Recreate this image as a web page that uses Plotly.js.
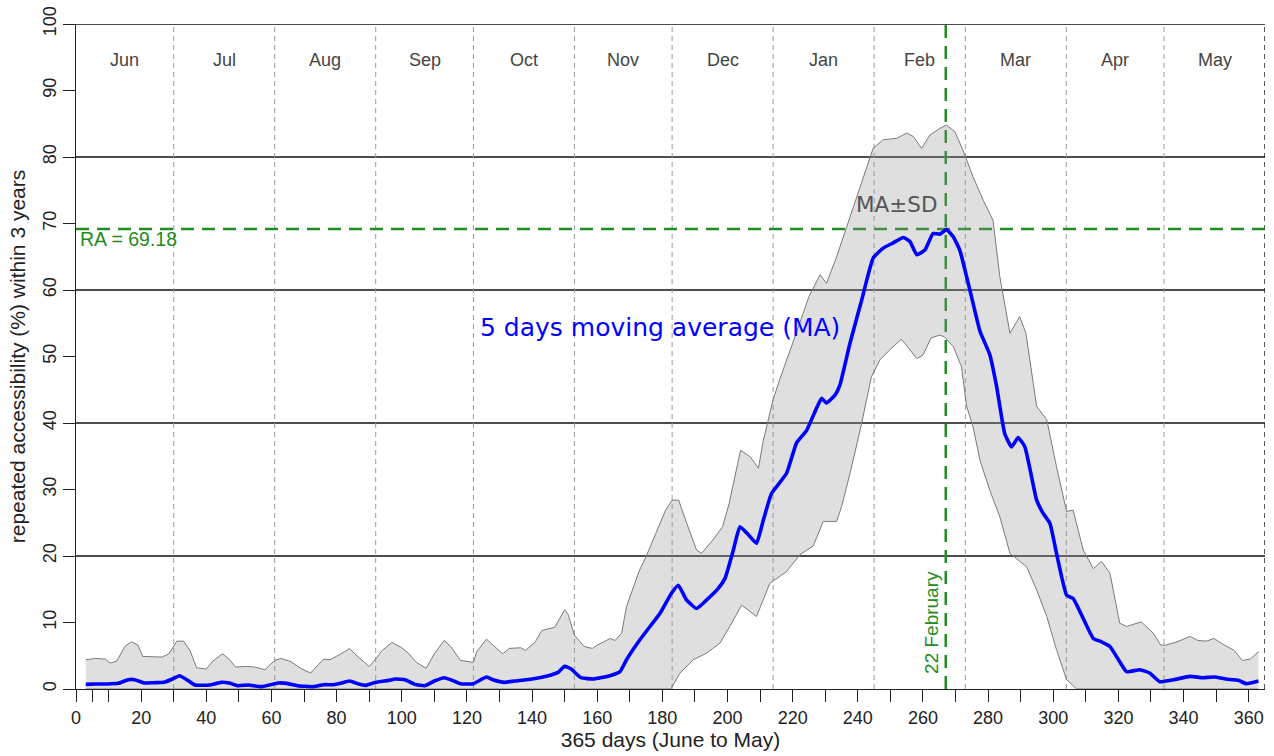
<!DOCTYPE html>
<html>
<head>
<meta charset="utf-8">
<script src="https://cdn.plot.ly/plotly-3.0.1.min.js"></script>
<style>html,body{margin:0;padding:0;background:#fff;}#chart{width:1274px;height:756px;}</style>
</head>
<body>
<div id="chart"></div>
<script>
// ---- data ----
const upperDays = [3,6,9,10.5,12.5,15,17,19,20.5,23,26.5,28.5,31,33,35,37,40,42,45,47,49,52,55,58,61,63,66,69,72,76,78,81,84,86,90,91.5,94,97,100,102,104.5,107.5,110,113,115,118,122,123,126,128,131,133,136.5,138,141,143,147,150,151,153,156,158.5,160,164,165.5,167.5,169,173,175,178,181,183,185,187.5,190.5,192,195.5,198.5,200.5,204,207,209.5,211,214,216,220,225,228.4,230.4,233.5,237.6,241.7,244.7,247.8,251.9,255,257,259.6,262.1,265.2,267.2,269.8,272.3,275.4,278.5,281.5,283.6,286.7,289.7,291.6,294.9,298,301,304.1,306.1,309.2,312.3,314.8,317.4,320.4,322.5,327,330.7,333,334.5,338,342,344.4,347,349.4,351.8,355.6,358,360.5,363];
const upperVals = [4.4,4.6,4.5,3.9,4.2,6.4,7.1,6.6,4.9,4.9,4.8,5.3,7.2,7.2,5.8,3.2,3.0,4.2,5.3,4.5,3.3,3.4,3.3,2.9,4.3,4.6,4.1,3.1,2.4,4.5,4.4,5.2,6.1,5.1,3.4,4.2,5.8,7.0,6.2,5.4,4.0,3.1,5.3,7.3,6.4,4.3,4.0,5.6,7.5,6.6,5.3,6.1,6.2,5.8,7.1,8.8,9.3,11.9,11.3,8.1,6.4,6.1,6.6,7.6,7.3,8.4,12.4,17.9,19.9,23.4,26.9,28.4,28.4,24.9,20.9,20.4,22.4,24.4,27.9,35.9,34.9,33.2,37.4,43.5,46.5,52,59,62.3,61,65,71,77,81.3,82.6,82.8,83.6,83.1,81.3,83.3,84.3,84.8,83.8,81,77,73.5,70.5,62,53.5,56,53.5,42.5,40.5,33.4,26.7,26.9,20.9,18.1,19.2,17.4,9.9,9.4,10.1,8.4,6.6,6.6,7.1,7.9,7.3,7.2,7.6,6.8,5.8,4.3,4.5,5.6];

const lowerDays = [3,182.6,185.4,189.5,193.6,197.7,200.7,204.3,206,208.9,213,218,222.2,226.3,229.4,233.5,235,237.6,241.2,244.2,246.8,249.8,253.4,256,258.1,260,262.5,265,266.5,269.3,271.8,273.4,275.4,277.5,280.5,283.6,286.7,288.7,291.8,294.9,298,301,304.1,307.2,363];
const lowerVals = [0,0,2.4,4.4,5.4,6.9,9.4,12.6,12,10.9,15.9,17.6,20.2,21.5,25.2,25.2,27.4,32.4,40,47,49.5,51,52.6,51,49.7,50.2,52.8,53.2,53,51.5,48.5,42.5,39.4,34.4,29.9,25.9,20.4,19.6,18.4,14.9,10.9,5.9,1.4,0,0];

const maDays = [3,6,9.6,13,16,18,21,24,27,29.6,31.8,34,36.5,41,44.6,47,49.6,53,57,62,64.6,68,73,76,79,81.5,84,87,89,92,96,98,101,104,107,110,113,115,118,122,126,128,131.5,134.6,140,145,148,150,152,155,158.8,163.9,167,169,173.1,176.2,179.3,182.8,184.9,187.4,190.5,193.6,197.1,199.2,201.8,203.8,206.4,208.9,211,213.5,218.1,221.2,224.3,227.3,228.9,230.4,233,234.5,237.6,241.2,244.7,247.8,250.9,254,256,258.1,260.6,263.1,265.2,267.2,269.3,271.3,274.4,277.5,280.5,282.6,285.1,287.2,289.2,291.3,294.9,296.9,299,301,304.1,306.1,309.2,312.3,314.8,317.4,320.4,322.5,326.6,329.6,332.7,337,342,345.7,349.4,353,356.8,359.3,363];
const maVals = [0.7,0.75,0.76,0.85,1.4,1.4,0.9,0.95,1.0,1.5,2.0,1.4,0.6,0.6,1.0,0.9,0.5,0.6,0.35,0.9,0.85,0.5,0.35,0.65,0.65,0.9,1.2,0.7,0.55,1.0,1.3,1.5,1.4,0.7,0.5,1.2,1.7,1.4,0.8,0.8,1.8,1.4,1.0,1.2,1.5,2.0,2.5,3.4,3.0,1.7,1.5,2.0,2.6,4.4,7.4,9.4,11.4,14.4,15.6,13.4,12.1,13.4,15.1,16.6,20.9,24.4,23.2,21.9,25.4,29.4,32.4,37,38.9,42.2,43.7,43.0,44.2,45.7,52,58.5,64.8,66.3,67.1,67.9,67.3,65.3,66,68.5,68.4,69.1,68,66,60,53.8,50.3,45.5,38.4,36.4,37.8,36.4,28.4,26.4,24.9,20.4,14.1,13.6,10.6,7.6,7.1,6.4,4.1,2.6,2.9,2.4,1.1,1.4,1.9,1.7,1.8,1.5,1.3,0.8,1.2];

const monthNames = ['Jun','Jul','Aug','Sep','Oct','Nov','Dec','Jan','Feb','Mar','Apr','May'];
const monthEnds = [30,61,92,122,153,183,214,245,273,304,334,365];
const raValue = 69.18;
const peakDay = 267;
const xTickVals = [0,5,10,20,30,40,50,60,70,80,90,100,110,120,130,140,150,160,170,180,190,200,210,220,230,240,250,260,270,280,290,300,310,320,330,340,350,360];
const yTickVals = [0,10,20,30,40,50,60,70,80,90,100];
const blackLines = [20,40,60,80,100];

// ---- build ----
const green = 'rgb(34,139,34)';
const xTickText = xTickVals.map(v => (v % 20 === 0 ? String(v) : ''));

const traces = [
  {x: lowerDays, y: lowerVals, mode: 'lines', line: {color: '#7a7a7a', width: 1}, hoverinfo: 'skip', showlegend: false},
  {x: upperDays, y: upperVals, mode: 'lines', line: {color: '#7a7a7a', width: 1}, fill: 'tonexty', fillcolor: 'rgba(150,150,150,0.3)', hoverinfo: 'skip', showlegend: false},
  {x: maDays, y: maVals, mode: 'lines', line: {color: '#0000ff', width: 3.6, shape: 'spline', smoothing: 0.4}, showlegend: false}
];

const shapes = [];
blackLines.forEach(v => shapes.push({type: 'line', xref: 'x', yref: 'y', x0: 0, x1: 365, y0: v, y1: v, layer: 'below', line: {color: '#111', width: 1.3}}));
monthEnds.forEach((d, i) => {
  const last = i === monthEnds.length - 1;
  shapes.push({type: 'line', xref: 'x', yref: 'y', x0: d, x1: d, y0: 0, y1: 100, layer: 'below',
    line: {color: last ? '#222' : '#9a9a9a', width: last ? 1.5 : 1, dash: '5px,4px'}});
});
shapes.push({type: 'line', xref: 'x', yref: 'y', x0: 0, x1: 365, y0: raValue, y1: raValue, layer: 'below', line: {color: green, width: 2.5, dash: '13px,8px'}});
shapes.push({type: 'line', xref: 'x', yref: 'y', x0: peakDay, x1: peakDay, y0: 0, y1: 100, layer: 'below', line: {color: green, width: 2.5, dash: '13px,8px'}});

const annotations = [];
let start = 0;
monthEnds.forEach((d, i) => {
  annotations.push({x: (start + d) / 2, y: 94.6, xref: 'x', yref: 'y', text: monthNames[i], showarrow: false,
    font: {family: 'Liberation Sans, Arial, sans-serif', size: 18, color: '#444'}});
  start = d;
});
annotations.push({x: 179.3, y: 54.3, xref: 'x', yref: 'y', text: '5 days moving average (MA)', showarrow: false,
  font: {family: 'DejaVu Sans, Verdana, sans-serif', size: 25, color: '#0000ff'}});
annotations.push({x: 252, y: 72.9, xref: 'x', yref: 'y', text: 'MA±SD', showarrow: false,
  font: {family: 'DejaVu Sans, Verdana, sans-serif', size: 21.5, color: '#555'}});
annotations.push({x: 0.5, y: 67.6, xref: 'x', yref: 'y', xanchor: 'left', text: 'RA = ' + raValue.toFixed(2), showarrow: false,
  font: {family: 'Liberation Sans, Arial, sans-serif', size: 19.5, color: green}});
annotations.push({x: 262.6, y: 10, xref: 'x', yref: 'y', text: '22 February', textangle: -90, showarrow: false,
  font: {family: 'Liberation Sans, Arial, sans-serif', size: 19, color: green}});

const layout = {
  width: 1274, height: 756,
  margin: {l: 76, r: 9, t: 24, b: 67},
  paper_bgcolor: '#fff', plot_bgcolor: '#fff',
  font: {family: 'Liberation Sans, Arial, sans-serif', color: '#222'},
  xaxis: {
    range: [0, 365], showgrid: false, zeroline: false, showline: true, linecolor: '#222', linewidth: 1,
    ticks: 'outside', ticklen: 12, tickcolor: '#222', tickwidth: 1,
    tickmode: 'array', tickvals: xTickVals, ticktext: xTickText,
    tickfont: {size: 18, color: '#222'},
    title: {text: '365 days (June to May)', font: {size: 21, color: '#222'}, standoff: 4}
  },
  yaxis: {
    range: [0, 100], showgrid: false, zeroline: false, showline: true, linecolor: '#222', linewidth: 1,
    ticks: 'outside', ticklen: 12, tickcolor: '#222', tickwidth: 1,
    tickmode: 'array', tickvals: yTickVals, tickangle: -90,
    tickfont: {size: 18, color: '#222'},
    title: {text: 'repeated accessibility (%) within 3 years', font: {size: 21, color: '#222'}, standoff: 8}
  },
  shapes: shapes,
  annotations: annotations,
  showlegend: false
};

Plotly.newPlot('chart', traces, layout, {displayModeBar: false, staticPlot: true});
</script>
</body>
</html>
